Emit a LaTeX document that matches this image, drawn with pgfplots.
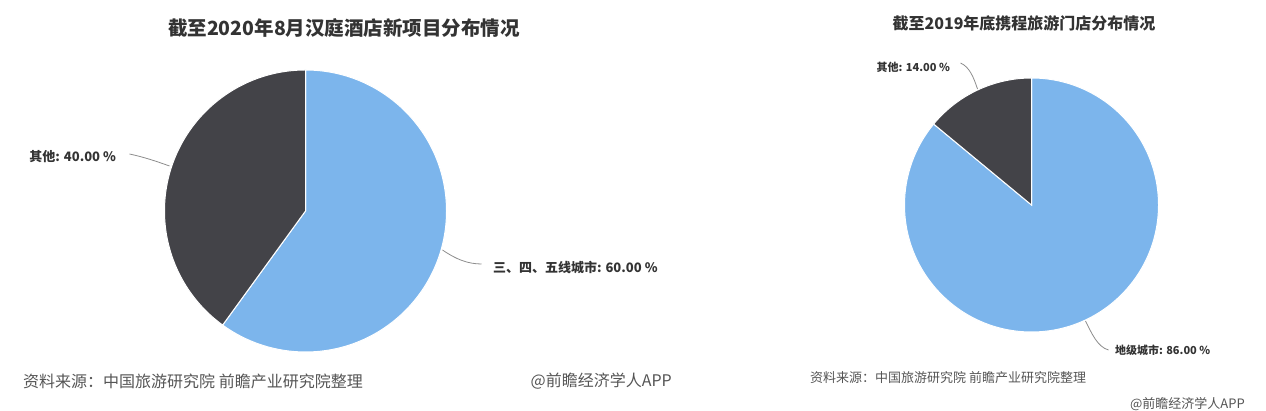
\documentclass[border=0pt]{standalone}
\usepackage{pgfplots}
\pgfplotsset{compat=1.18}
\usepackage{fontspec}
\setmainfont{Noto Sans CJK SC}

\definecolor{pieblue}{HTML}{7CB5EC}
\definecolor{piedark}{HTML}{434348}
\definecolor{txt}{HTML}{333333}
\definecolor{src}{HTML}{555555}
\definecolor{conn}{HTML}{8C8C8C}

% shares in percent
\def\htA{60} % 三、四、五线城市
\def\htB{40} % 其他
\def\xcA{86} % 地级城市
\def\xcB{14} % 其他

% slice angles, clockwise from 12 o'clock
\pgfmathsetmacro{\htEnd}{90-3.6*\htA}
\pgfmathsetmacro{\xcEnd}{90-3.6*\xcA}

\newcommand{\fs}[1]{\fontsize{#1}{#1}\selectfont}

\begin{document}
\begin{tikzpicture}[x=1pt,y=1pt]
\path[use as bounding box] (0,0) rectangle (1266,411);

% left pie
\begin{axis}[at={(305.5pt,200pt)}, anchor=center, x=1pt, y=1pt,
    xmin=-145, xmax=145, ymin=-145, ymax=145, hide axis, clip=false]
  \fill[pieblue, draw=white, line width=1pt] (axis cs:0,0) -- (axis cs:0,141)
    arc[start angle=90, end angle=\htEnd, radius=141pt] -- cycle;
  \fill[piedark, draw=white, line width=1pt] (axis cs:0,0) -- (axis cs:0,141)
    arc[start angle=90, end angle=\htEnd+360, radius=141pt] -- cycle;
  \draw[conn, line width=0.8pt] (axis cs:-136,45) .. controls (axis cs:-150,50) and (axis cs:-162,54) .. (axis cs:-176,57);
  \node[anchor=east, text=txt, font=\bfseries\fs{13}] at (axis cs:-186,54) {其他: 40.00 \%};
  \draw[conn, line width=0.8pt] (axis cs:137,-39) .. controls (axis cs:150,-48) and (axis cs:162,-53) .. (axis cs:176,-53);
  \node[anchor=west, text=txt, font=\bfseries\fs{13}] at (axis cs:184,-57) {三、四、五线城市: 60.00 \%};
\end{axis}

% right pie
\begin{axis}[at={(1031.5pt,206pt)}, anchor=center, x=1pt, y=1pt,
    xmin=-130, xmax=130, ymin=-130, ymax=130, hide axis, clip=false]
  \fill[pieblue, draw=white, line width=1pt] (axis cs:0,0) -- (axis cs:0,127)
    arc[start angle=90, end angle=\xcEnd, radius=127pt] -- cycle;
  \fill[piedark, draw=white, line width=1pt] (axis cs:0,0) -- (axis cs:0,127)
    arc[start angle=90, end angle=\xcEnd+360, radius=127pt] -- cycle;
  \draw[conn, line width=0.8pt] (axis cs:-54,116) .. controls (axis cs:-58,128) and (axis cs:-62,138) .. (axis cs:-71,142);
  \node[anchor=east, text=txt, font=\bfseries\fs{11}] at (axis cs:-78,138) {其他: 14.00 \%};
  \draw[conn, line width=0.8pt] (axis cs:54,-116) .. controls (axis cs:60,-128) and (axis cs:66,-142) .. (axis cs:77,-145);
  \node[anchor=west, text=txt, font=\bfseries\fs{11}] at (axis cs:80,-145) {地级城市: 86.00 \%};
\end{axis}

% titles
\node[text=txt, font=\bfseries\fs{19.5}] at (344,383) {截至2020年8月汉庭酒店新项目分布情况};
\node[text=txt, font=\bfseries\fs{16}] at (1024,388) {截至2019年底携程旅游门店分布情况};

% sources
\node[anchor=west, text=src, font=\fs{16}, inner sep=0pt] at (23,30) {资料来源：中国旅游研究院 前瞻产业研究院整理};
\node[anchor=east, text=src, font=\fs{16}, inner sep=0pt] at (672,30) {@前瞻经济学人APP};
\node[anchor=west, text=src, font=\fs{13}, inner sep=0pt] at (810,33) {资料来源：中国旅游研究院 前瞻产业研究院整理};
\node[anchor=east, text=src, font=\fs{13}, inner sep=0pt] at (1245,7) {@前瞻经济学人APP};
\end{tikzpicture}
\end{document}
